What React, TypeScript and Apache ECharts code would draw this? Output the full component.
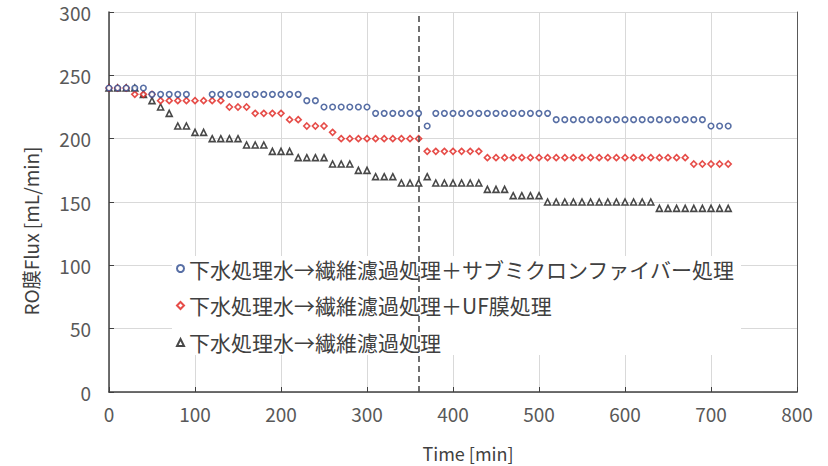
import React, { useEffect, useRef } from "react";
import * as echarts from "echarts";

const times = [
  0, 10, 20, 30, 40, 50, 60, 70, 80, 90,
  100, 110, 120, 130, 140, 150, 160, 170, 180, 190,
  200, 210, 220, 230, 240, 250, 260, 270, 280, 290,
  300, 310, 320, 330, 340, 350, 360, 370, 380, 390,
  400, 410, 420, 430, 440, 450, 460, 470, 480, 490,
  500, 510, 520, 530, 540, 550, 560, 570, 580, 590,
  600, 610, 620, 630, 640, 650, 660, 670, 680, 690,
  700, 710, 720,
];

const seriesNames = [
  "下水処理水→繊維濾過処理＋サブミクロンファイバー処理",
  "下水処理水→繊維濾過処理＋UF膜処理",
  "下水処理水→繊維濾過処理",
];

const blueValues: (number | null)[] = [
  240, 240, 240, 240, 240, 235, 235, 235, 235, 235,
  null, null, 235, 235, 235, 235, 235, 235, 235, 235,
  235, 235, 235, 230, 230, 225, 225, 225, 225, 225,
  225, 220, 220, 220, 220, 220, 220, 210, 220, 220,
  220, 220, 220, 220, 220, 220, 220, 220, 220, 220,
  220, 220, 215, 215, 215, 215, 215, 215, 215, 215,
  215, 215, 215, 215, 215, 215, 215, 215, 215, 215,
  210, 210, 210,
];

const redValues: number[] = [
  240, 240, 240, 235, 235, 235, 230, 230, 230, 230,
  230, 230, 230, 230, 225, 225, 225, 220, 220, 220,
  220, 215, 215, 210, 210, 210, 205, 200, 200, 200,
  200, 200, 200, 200, 200, 200, 200, 190, 190, 190,
  190, 190, 190, 190, 185, 185, 185, 185, 185, 185,
  185, 185, 185, 185, 185, 185, 185, 185, 185, 185,
  185, 185, 185, 185, 185, 185, 185, 185, 180, 180,
  180, 180, 180,
];

const blackValues: number[] = [
  240, 240, 240, 240, 235, 230, 225, 220, 210, 210,
  205, 205, 200, 200, 200, 200, 195, 195, 195, 190,
  190, 190, 185, 185, 185, 185, 180, 180, 180, 175,
  175, 170, 170, 170, 165, 165, 165, 170, 165, 165,
  165, 165, 165, 165, 160, 160, 160, 155, 155, 155,
  155, 150, 150, 150, 150, 150, 150, 150, 150, 150,
  150, 150, 150, 150, 145, 145, 145, 145, 145, 145,
  145, 145, 145,
];

const dividerTime = 360;
const xTitle = "Time [min]";
const yTitle = "RO膜Flux [mL/min]";

const FONT = "'Noto Sans CJK JP', 'Noto Sans', sans-serif";

function pairs(vals: (number | null)[]) {
  return times.map((t, i) => [t, vals[i] === null ? "-" : vals[i]]);
}

export default function App() {
  const ref = useRef<HTMLDivElement>(null);
  useEffect(() => {
    if (!ref.current) return;
    const chart = echarts.init(ref.current, null, { renderer: "svg" });
    const axisLabel = { color: "#595959", fontSize: 19, fontFamily: FONT };
    chart.setOption({
      animation: false,
      backgroundColor: "#ffffff",
      grid: { left: 109, right: 31, top: 12, bottom: 74 },
      graphic: [
        {
          type: "text",
          x: 468,
          y: 453,
          style: {
            text: xTitle,
            fill: "#404040",
            fontSize: 18,
            fontFamily: FONT,
            align: "center",
            verticalAlign: "middle",
          },
        },
        {
          type: "text",
          x: 30,
          y: 231,
          rotation: Math.PI / 2,
          style: {
            text: yTitle,
            fill: "#404040",
            fontSize: 19,
            fontFamily: FONT,
            align: "center",
            verticalAlign: "middle",
          },
        },
      ],
      legend: {
        orient: "vertical",
        left: 172,
        top: 256,
        itemWidth: 7,
        itemHeight: 7,
        itemGap: 16,
        backgroundColor: "#ffffff",
        padding: [2, 6, 2, 4],
        textStyle: { color: "#404040", fontSize: 21, fontFamily: FONT },
        data: seriesNames,
      },
      xAxis: {
        type: "value",
        min: 0,
        max: 800,
        interval: 100,
        axisLine: { show: true, onZero: false, lineStyle: { color: "#404040", width: 1.5 } },
        axisTick: { show: true, inside: true, length: 5, lineStyle: { color: "#404040" } },
        axisLabel: { ...axisLabel, margin: 12 },
        splitLine: { show: true, lineStyle: { color: "#d9d9d9", width: 1 } },
      },
      yAxis: [
        {
          type: "value",
          min: 0,
          max: 300,
          interval: 50,
          axisLine: { show: true, lineStyle: { color: "#404040", width: 1.5 } },
          axisTick: { show: true, inside: true, length: 5, lineStyle: { color: "#404040" } },
          axisLabel: { ...axisLabel, margin: 18 },
          splitLine: { show: true, lineStyle: { color: "#d9d9d9", width: 1 } },
        },
        {
          type: "value",
          min: 0,
          max: 300,
          interval: 50,
          position: "right",
          axisLine: { show: true, lineStyle: { color: "#595959", width: 1 } },
          axisTick: { show: false },
          axisLabel: { show: false },
          splitLine: { show: false },
        },
      ],
      series: [
        {
          name: seriesNames[2],
          type: "scatter",
          symbol: "triangle",
          symbolSize: [6, 6],
          itemStyle: { color: "#ffffff", borderColor: "#1a1a1a", borderWidth: 1.6 },
          data: pairs(blackValues),
          z: 3,
          markLine: {
            silent: true,
            symbol: "none",
            label: { show: false },
            lineStyle: { color: "#4d4d4d", type: [6, 4], width: 1.6 },
            data: [{ xAxis: dividerTime }],
          },
        },
        {
          name: seriesNames[1],
          type: "scatter",
          symbol: "diamond",
          symbolSize: [6, 6],
          itemStyle: { color: "#ffffff", borderColor: "#e0201c", borderWidth: 1.6 },
          data: pairs(redValues),
          z: 4,
        },
        {
          name: seriesNames[0],
          type: "scatter",
          symbol: "circle",
          symbolSize: 5.5,
          itemStyle: { color: "#ffffff", borderColor: "#2e4b8f", borderWidth: 1.6 },
          data: pairs(blueValues),
          z: 5,
        },
      ],
    });
    return () => chart.dispose();
  }, []);
  return (
    <div
      ref={ref}
      style={{ position: "absolute", left: 0, top: 0, width: 828, height: 466 }}
    />
  );
}
